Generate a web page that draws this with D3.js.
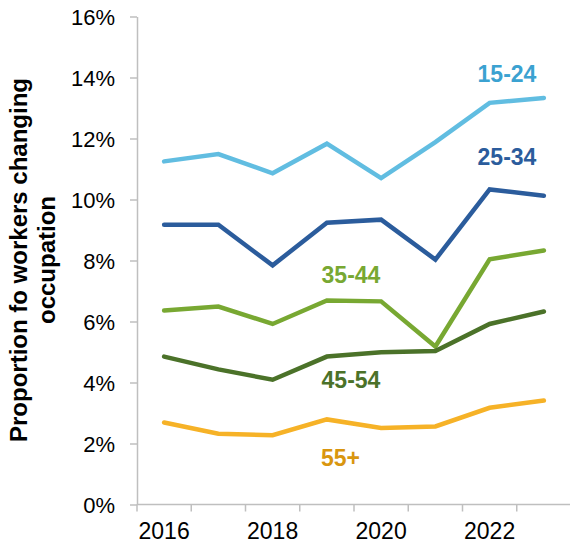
<!DOCTYPE html>
<html>
<head>
<meta charset="utf-8">
<script src="https://cdn.jsdelivr.net/npm/d3@7"></script>
<style>
  html, body { margin: 0; padding: 0; background: #fff; }
  svg { display: block; font-family: "Liberation Sans", Arial, sans-serif; }
</style>
</head>
<body>
<svg id="chart" width="570" height="546"></svg>
<script>
// Years on the category axis and which of them get a label
const years = [2016, 2017, 2018, 2019, 2020, 2021, 2022, 2023];
const labelledYears = [2016, 2018, 2020, 2022];
const yTicks = [0, 2, 4, 6, 8, 10, 12, 14, 16];

// Share of workers changing occupation (%), by age group
const age15_24 = [11.25, 11.49, 10.86, 11.83, 10.70, 11.88, 13.17, 13.33];
const age25_34 = [9.17, 9.17, 7.84, 9.24, 9.34, 8.03, 10.33, 10.12];
const age35_44 = [6.36, 6.49, 5.92, 6.69, 6.66, 5.18, 8.04, 8.33];
const age45_54 = [4.85, 4.43, 4.09, 4.85, 4.99, 5.03, 5.92, 6.33];
const age55plus = [2.69, 2.32, 2.27, 2.79, 2.51, 2.56, 3.17, 3.41];

const seriesNames = ["15-24", "25-34", "35-44", "45-54", "55+"];
const seriesValues = [age15_24, age25_34, age35_44, age45_54, age55plus];
const lineColors = ["#61BDE1", "#2B5C9C", "#78A832", "#4B7229", "#F6B227"];
const labelColors = ["#3BA2D1", "#2B5C9C", "#78A832", "#4B7229", "#D9960F"];

const svg = d3.select("#chart");
const margin = { left: 137, right: 0, top: 16.5, bottom: 41.5 };
const W = 570, H = 546;

const x = d3.scaleBand().domain(years).range([margin.left, 571]).paddingInner(0).paddingOuter(0);
const y = d3.scaleLinear().domain([0, 16]).range([H - margin.bottom, margin.top]);

const axisColor = "#BFBFBF";

// Y axis
const yAxis = svg.append("g")
  .attr("transform", `translate(${margin.left},0)`)
  .call(d3.axisLeft(y).tickValues(yTicks).tickSizeInner(7).tickSizeOuter(0).tickPadding(15)
    .tickFormat(d => d + "%"));
yAxis.select(".domain").attr("stroke", axisColor).attr("stroke-width", 1.5);
yAxis.selectAll(".tick line").attr("stroke", axisColor).attr("stroke-width", 1.5);
yAxis.selectAll(".tick text")
  .attr("font-size", 22).attr("fill", "#000").attr("dy", "0.36em")
  .attr("font-family", "Liberation Sans, Arial, sans-serif");

// X axis: ticks sit on the category boundaries
const boundaries = years.map(d => x(d)).concat([x(years[years.length - 1]) + x.bandwidth()]);
const xg = svg.append("g");
xg.append("line")
  .attr("x1", margin.left).attr("x2", W)
  .attr("y1", y(0)).attr("y2", y(0))
  .attr("stroke", axisColor).attr("stroke-width", 1.5);
xg.selectAll("line.tk").data(boundaries).join("line")
  .attr("class", "tk")
  .attr("x1", d => d).attr("x2", d => d)
  .attr("y1", y(0)).attr("y2", y(0) + 7)
  .attr("stroke", axisColor).attr("stroke-width", 1.5);
xg.selectAll("text").data(labelledYears).join("text")
  .attr("x", d => x(d) + x.bandwidth() / 2)
  .attr("y", 539)
  .attr("text-anchor", "middle")
  .attr("font-size", 23)
  .attr("fill", "#000")
  .text(d => d);

// Y axis title
const title = svg.append("text")
  .attr("transform", `translate(0,260) rotate(-90)`)
  .attr("text-anchor", "middle")
  .attr("font-size", 24)
  .attr("font-weight", "bold")
  .attr("fill", "#000");
title.append("tspan").attr("x", 0).attr("y", 27).text("Proportion fo workers changing");
title.append("tspan").attr("x", 0).attr("y", 55).text("occupation");

// Lines
const line = d3.line()
  .x((d, i) => x(years[i]) + x.bandwidth() / 2)
  .y(d => y(d));

svg.append("g").selectAll("path").data(seriesValues).join("path")
  .attr("d", line)
  .attr("fill", "none")
  .attr("stroke", (d, i) => lineColors[i])
  .attr("stroke-width", 4.5)
  .attr("stroke-linejoin", "miter")
  .attr("stroke-linecap", "round");

// Series labels
const labelPos = [
  { x: 507, y: 82, anchor: "middle" },
  { x: 507, y: 165, anchor: "middle" },
  { x: 351, y: 283, anchor: "middle" },
  { x: 351, y: 388, anchor: "middle" },
  { x: 321, y: 466, anchor: "start" }
];
svg.append("g").selectAll("text").data(seriesNames).join("text")
  .attr("x", (d, i) => labelPos[i].x)
  .attr("y", (d, i) => labelPos[i].y)
  .attr("text-anchor", (d, i) => labelPos[i].anchor)
  .attr("font-size", 23)
  .attr("font-weight", "bold")
  .attr("fill", (d, i) => labelColors[i])
  .text(d => d);
</script>
</body>
</html>
